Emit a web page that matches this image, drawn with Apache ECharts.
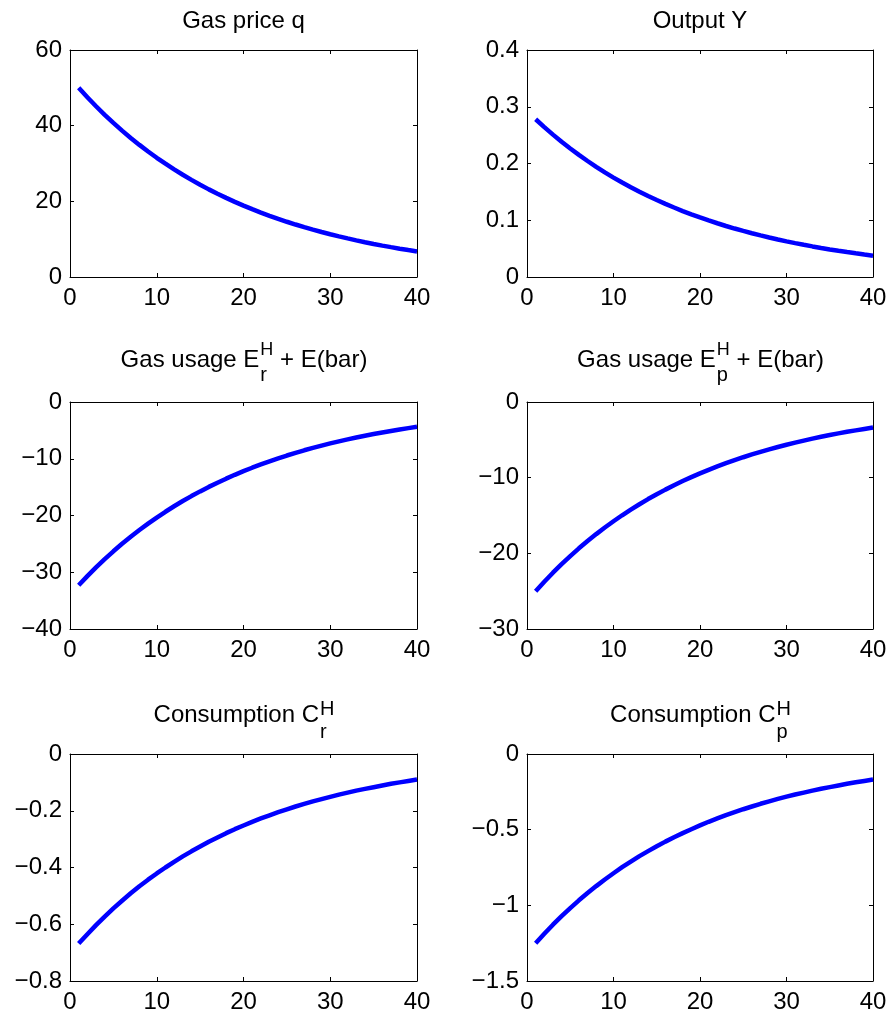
<!DOCTYPE html>
<html>
<head>
<meta charset="utf-8">
<script src="https://cdn.jsdelivr.net/npm/echarts@6/dist/echarts.min.js"></script>
<style>
  html, body { margin: 0; padding: 0; background: #fff; }
  #chart { width: 891px; height: 1020px; }
</style>
</head>
<body>
<div id="chart"></div>
<script>
// impulse responses, periods 1..40
const gasPrice = [50.00, 47.50, 45.13, 42.87, 40.73, 38.69, 36.75, 34.92, 33.17, 31.51,
  29.94, 28.44, 27.02, 25.67, 24.38, 23.16, 22.01, 20.91, 19.86, 18.87,
  17.92, 17.03, 16.18, 15.37, 14.60, 13.87, 13.18, 12.52, 11.89, 11.30,
  10.73, 10.20, 9.69, 9.20, 8.74, 8.30, 7.89, 7.49, 7.12, 6.76]
const output = [0.2780, 0.2641, 0.2509, 0.2383, 0.2264, 0.2151, 0.2044, 0.1941, 0.1844, 0.1752,
  0.1664, 0.1581, 0.1502, 0.1427, 0.1356, 0.1288, 0.1224, 0.1162, 0.1104, 0.1049,
  0.0997, 0.0947, 0.0899, 0.0854, 0.0812, 0.0771, 0.0733, 0.0696, 0.0661, 0.0628,
  0.0597, 0.0567, 0.0539, 0.0512, 0.0486, 0.0462, 0.0439, 0.0417, 0.0396, 0.0376]
const gasUsageR = [-32.30, -30.69, -29.15, -27.69, -26.31, -24.99, -23.74, -22.56, -21.43, -20.36,
  -19.34, -18.37, -17.45, -16.58, -15.75, -14.96, -14.22, -13.51, -12.83, -12.19,
  -11.58, -11.00, -10.45, -9.93, -9.43, -8.96, -8.51, -8.09, -7.68, -7.30,
  -6.93, -6.59, -6.26, -5.94, -5.65, -5.36, -5.10, -4.84, -4.60, -4.37]
const gasUsageP = [-25.00, -23.75, -22.56, -21.43, -20.36, -19.34, -18.38, -17.46, -16.59, -15.76,
  -14.97, -14.22, -13.51, -12.83, -12.19, -11.58, -11.00, -10.45, -9.93, -9.43,
  -8.96, -8.51, -8.09, -7.68, -7.30, -6.93, -6.59, -6.26, -5.95, -5.65,
  -5.37, -5.10, -4.84, -4.60, -4.37, -4.15, -3.94, -3.75, -3.56, -3.38]
const consR = [-0.668, -0.635, -0.603, -0.573, -0.544, -0.517, -0.491, -0.466, -0.443, -0.421,
  -0.400, -0.380, -0.361, -0.343, -0.326, -0.309, -0.294, -0.279, -0.265, -0.252,
  -0.239, -0.227, -0.216, -0.205, -0.195, -0.185, -0.176, -0.167, -0.159, -0.151,
  -0.143, -0.136, -0.129, -0.123, -0.117, -0.111, -0.105, -0.100, -0.095, -0.090]
const consP = [-1.250, -1.188, -1.128, -1.072, -1.018, -0.967, -0.919, -0.873, -0.829, -0.788,
  -0.748, -0.711, -0.675, -0.642, -0.610, -0.579, -0.550, -0.523, -0.497, -0.472,
  -0.448, -0.426, -0.404, -0.384, -0.365, -0.347, -0.329, -0.313, -0.297, -0.282,
  -0.268, -0.255, -0.242, -0.230, -0.219, -0.208, -0.197, -0.187, -0.178, -0.169]

const xTicks = [0, 40, 10]   // min, max, interval

const panels = [
  { data: gasPrice,  yMin: 0,    yMax: 60,  yStep: 20,  title: ['Gas price q'] },
  { data: output,    yMin: 0,    yMax: 0.4, yStep: 0.1, title: ['Output Y'] },
  { data: gasUsageR, yMin: -40,  yMax: 0,   yStep: 10,  title: ['Gas usage E', 'H', 'r', ' + E(bar)'] },
  { data: gasUsageP, yMin: -30,  yMax: 0,   yStep: 10,  title: ['Gas usage E', 'H', 'p', ' + E(bar)'] },
  { data: consR,     yMin: -0.8, yMax: 0,   yStep: 0.2, title: ['Consumption C', 'H', 'r', ''] },
  { data: consP,     yMin: -1.5, yMax: 0,   yStep: 0.5, title: ['Consumption C', 'H', 'p', ''] },
]

// layout (px)
const cols = [{ left: 70, width: 347 }, { left: 527, width: 346 }]
const rowTops = [50, 402, 754]
const plotH = 227
const FONT = "'Liberation Sans', Arial, Helvetica, sans-serif"
const FS = 24
// title baseline + script offsets per row
const titleRows = [
  { base: 30 },
  { base: 369, supFs: 18, supDy: -13, subFs: 20, subDy: 13 },
  { base: 724, supFs: 20, supDy: -8, subFs: 20, subDy: 15 },
]

const ctx = document.createElement('canvas').getContext('2d')
const textW = (s, fs) => { ctx.font = fs + 'px ' + FONT; return ctx.measureText(s).width }
const midY = (base, fs) => base - 0.35 * fs
const minus = v => String(v).replace('-', '\u2212')

const chart = echarts.init(document.getElementById('chart'), null, { renderer: 'canvas' })

const grid = [], xAxis = [], yAxis = [], series = [], graphic = []
const lineCol = '#000'

panels.forEach((p, i) => {
  const col = cols[i % 2]
  const r = Math.floor(i / 2)
  grid.push({ left: col.left, top: rowTops[r], width: col.width, height: plotH })

  const baseX = {
    type: 'value', gridIndex: i, min: xTicks[0], max: xTicks[1], interval: xTicks[2],
    axisLine: { show: true, onZero: false, lineStyle: { color: lineCol, width: 1 } },
    axisTick: { show: true, inside: true, length: 4, lineStyle: { color: lineCol } },
    splitLine: { show: false },
  }
  xAxis.push(Object.assign({}, baseX, {
    position: 'bottom',
    axisLabel: { show: true, color: '#000', fontSize: FS, fontFamily: FONT, margin: 9 },
  }))
  xAxis.push(Object.assign({}, baseX, { position: 'top', axisLabel: { show: false } }))

  const baseY = {
    type: 'value', gridIndex: i, min: p.yMin, max: p.yMax, interval: p.yStep,
    axisLine: { show: true, onZero: false, lineStyle: { color: lineCol, width: 1 } },
    axisTick: { show: true, inside: true, length: 4, lineStyle: { color: lineCol } },
    splitLine: { show: false },
  }
  yAxis.push(Object.assign({}, baseY, {
    position: 'left',
    axisLabel: { show: true, color: '#000', fontSize: FS, fontFamily: FONT, margin: 8, formatter: minus },
  }))
  yAxis.push(Object.assign({}, baseY, { position: 'right', axisLabel: { show: false } }))

  series.push({
    type: 'line',
    xAxisIndex: i * 2,
    yAxisIndex: i * 2,
    data: p.data.map((v, k) => [k + 1, v]),
    showSymbol: false,
    lineStyle: { color: '#0000ff', width: 4.5 },
    itemStyle: { color: '#0000ff' },
    silent: true,
  })

  // title with stacked super/subscript
  const tr = titleRows[r]
  const cx = col.left + col.width / 2
  const [main, sup, sub, tail] = p.title
  if (!sup) {
    graphic.push({
      type: 'text',
      style: { text: main, x: cx, y: midY(tr.base, FS), font: FS + 'px ' + FONT, fill: '#000', align: 'center', verticalAlign: 'middle' },
    })
  } else {
    const wMain = textW(main, FS)
    const wScript = Math.max(textW(sup, tr.supFs), textW(sub, tr.subFs))
    const wTail = textW(tail, FS)
    const x0 = cx - (wMain + wScript + wTail) / 2
    const xs = x0 + wMain + 1
    graphic.push({
      type: 'text',
      style: { text: main, x: x0, y: midY(tr.base, FS), font: FS + 'px ' + FONT, fill: '#000', align: 'left', verticalAlign: 'middle' },
    })
    graphic.push({
      type: 'text',
      style: { text: sup, x: xs, y: midY(tr.base + tr.supDy, tr.supFs), font: tr.supFs + 'px ' + FONT, fill: '#000', align: 'left', verticalAlign: 'middle' },
    })
    graphic.push({
      type: 'text',
      style: { text: sub, x: xs, y: midY(tr.base + tr.subDy, tr.subFs), font: tr.subFs + 'px ' + FONT, fill: '#000', align: 'left', verticalAlign: 'middle' },
    })
    if (tail) {
      graphic.push({
        type: 'text',
        style: { text: tail, x: xs + wScript, y: midY(tr.base, FS), font: FS + 'px ' + FONT, fill: '#000', align: 'left', verticalAlign: 'middle' },
      })
    }
  }
})

chart.setOption({
  animation: false,
  backgroundColor: '#fff',
  grid,
  xAxis,
  yAxis,
  series,
  graphic,
})
</script>
</body>
</html>
